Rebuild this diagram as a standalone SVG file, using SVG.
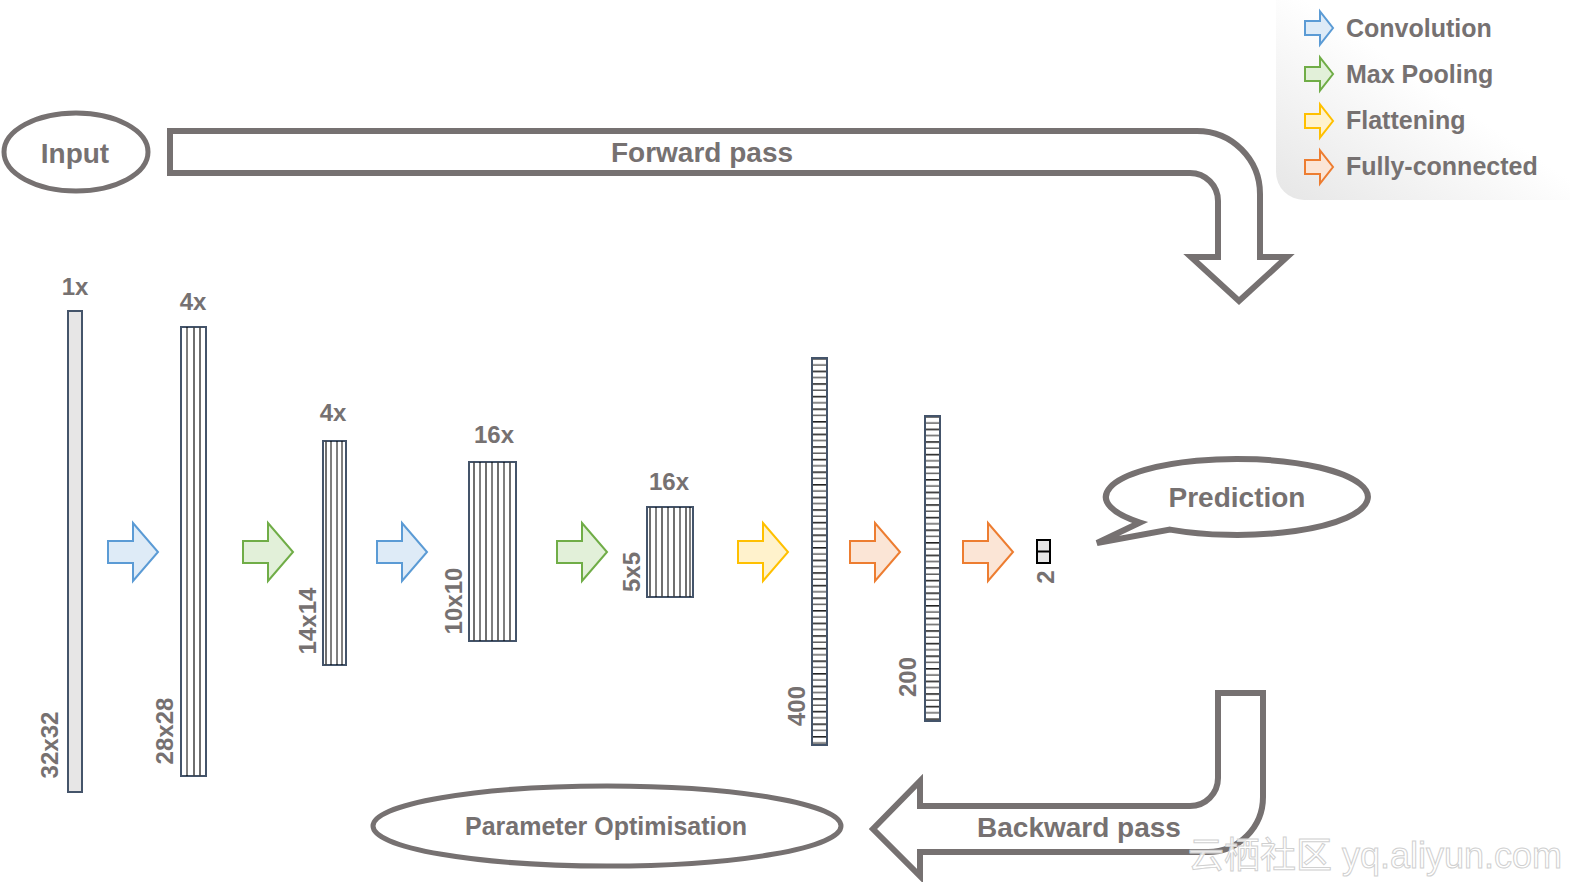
<svg xmlns="http://www.w3.org/2000/svg" width="1570" height="882" viewBox="0 0 1570 882">
<style>
.t{font-family:"Liberation Sans",Arial,sans-serif;font-weight:bold;fill:#767171}
.big{font-size:28px}
.lg{font-size:25px}
.sm{font-size:24px}
.gray{fill:none;stroke:#767171;stroke-width:6;stroke-linejoin:miter}
.ell{fill:#fff;stroke:#767171;stroke-width:5}
.layer{stroke:#44546a;stroke-width:2}
.vl{stroke:#404040;stroke-width:1.5}
.vt{stroke:#000;stroke-width:1}
.blue{fill:#deebf7;stroke:#5b9bd5;stroke-width:2}
.green{fill:#e2f0d9;stroke:#70ad47;stroke-width:2}
.yellow{fill:#fff2cc;stroke:#ffc000;stroke-width:2}
.orange{fill:#fbe5d6;stroke:#ed7d31;stroke-width:2}
</style>
<defs>
<path id="arr" d="M0,-11 H25 V-29 L50,0 L25,29 V11 H0 Z"/>
<path id="larr" d="M0,-7 H15 V-16.5 L28,0 L15,16.5 V7 H0 Z"/>
<linearGradient id="lgbg" x1="0" y1="1" x2="1" y2="0">
<stop offset="0" stop-color="#e6e6e6"/>
<stop offset="0.55" stop-color="#ffffff"/>
</linearGradient>
<pattern id="hl" patternUnits="userSpaceOnUse" x="0" y="358" width="20" height="12.6">
<rect width="20" height="12.6" fill="#fff"/>
<rect y="0" width="20" height="1.6" fill="#222"/>
<rect y="6.3" width="20" height="1.4" fill="#555"/>
</pattern>
<pattern id="hl2" patternUnits="userSpaceOnUse" x="0" y="416" width="20" height="12.6">
<rect width="20" height="12.6" fill="#fff"/>
<rect y="0" width="20" height="1.6" fill="#222"/>
<rect y="6.3" width="20" height="1.4" fill="#555"/>
</pattern>
</defs>
<rect width="1570" height="882" fill="#fff"/>

<g id="legend">
<path d="M1276,0 H1570 V200 H1304 A28,28 0 0 1 1276,172 Z" fill="url(#lgbg)"/>
<use href="#larr" x="1305" y="28" class="blue"/>
<use href="#larr" x="1305" y="74" class="green"/>
<use href="#larr" x="1305" y="121" class="yellow"/>
<use href="#larr" x="1305" y="167" class="orange"/>
<text class="t lg" x="1346" y="37">Convolution</text>
<text class="t lg" x="1346" y="83">Max Pooling</text>
<text class="t lg" x="1346" y="129">Flattening</text>
<text class="t lg" x="1346" y="175">Fully-connected</text>
</g>

<g id="input">
<ellipse cx="76" cy="152" rx="72" ry="39" class="ell"/>
<text class="t big" x="75" y="163" text-anchor="middle">Input</text>
</g>

<g id="forward-pass">
<path class="gray" d="M170,131 H1197 A63,63 0 0 1 1260,194 V257 H1287 L1239,301 L1191,257 H1218 V201 A28,28 0 0 0 1190,173 H170 Z"/>
<text class="t big" x="702" y="162" text-anchor="middle">Forward pass</text>
</g>

<g id="layer1">
<rect x="68" y="311" width="14" height="481" fill="#e7e6e6" class="layer"/>
<text class="t sm" x="75" y="295" text-anchor="middle">1x</text>
<text class="t sm" transform="translate(49,745) rotate(-90)" text-anchor="middle" dy="9">32x32</text>
</g>

<g id="layer2">
<rect x="181" y="327" width="25" height="449" fill="#fff" class="layer"/>
<path class="vt" d="M187,327 V776"/>
<path class="vl" d="M194,327 V776 M200,327 V776"/>
<text class="t sm" x="193" y="310" text-anchor="middle">4x</text>
<text class="t sm" transform="translate(164,731) rotate(-90)" text-anchor="middle" dy="9">28x28</text>
</g>

<g id="layer3">
<rect x="323" y="441" width="23" height="224" fill="#fff" class="layer"/>
<path class="vl" d="M326,441 V665"/>
<path class="vt" d="M331,441 V665 M337,441 V665 M342,441 V665"/>
<text class="t sm" x="333" y="421" text-anchor="middle">4x</text>
<text class="t sm" transform="translate(307,621) rotate(-90)" text-anchor="middle" dy="9">14x14</text>
</g>

<g id="layer4">
<rect x="469" y="462" width="47" height="179" fill="#fff" class="layer"/>
<path class="vl" d="M474,462 V641 M486,462 V641 M498,462 V641 M510,462 V641"/>
<path class="vt" d="M480,462 V641 M492,462 V641 M504,462 V641"/>
<text class="t sm" x="494" y="443" text-anchor="middle">16x</text>
<text class="t sm" transform="translate(453,601) rotate(-90)" text-anchor="middle" dy="9">10x10</text>
</g>

<g id="layer5">
<rect x="647" y="507" width="46" height="90" fill="#fff" class="layer"/>
<path class="vl" d="M650,507 V597 M662,507 V597 M674,507 V597 M686,507 V597"/>
<path class="vt" d="M656,507 V597 M668,507 V597 M680,507 V597 M690,507 V597"/>
<text class="t sm" x="669" y="490" text-anchor="middle">16x</text>
<text class="t sm" transform="translate(631,572) rotate(-90)" text-anchor="middle" dy="9">5x5</text>
</g>

<g id="layer6">
<rect x="812" y="358" width="15" height="387" fill="url(#hl)" class="layer"/>
<text class="t sm" transform="translate(796,706) rotate(-90)" text-anchor="middle" dy="9">400</text>
</g>

<g id="layer7">
<rect x="925" y="416" width="15" height="305" fill="url(#hl2)" class="layer"/>
<text class="t sm" transform="translate(907,677) rotate(-90)" text-anchor="middle" dy="9">200</text>
</g>

<g id="output">
<rect x="1037" y="540" width="13" height="23" fill="#e7e6e6" stroke="#000" stroke-width="2"/>
<path d="M1037,551.5 H1050" stroke="#000" stroke-width="2"/>
<text class="t sm" transform="translate(1045,577) rotate(-90)" text-anchor="middle" dy="9">2</text>
</g>

<g id="connectors">
<use href="#arr" x="108" y="552" class="blue"/>
<use href="#arr" x="243" y="552" class="green"/>
<use href="#arr" x="377" y="552" class="blue"/>
<use href="#arr" x="557" y="552" class="green"/>
<use href="#arr" x="738" y="552" class="yellow"/>
<use href="#arr" x="850" y="552" class="orange"/>
<use href="#arr" x="963" y="552" class="orange"/>
</g>

<g id="prediction">
<path d="M1170,529.6 A131,38 0 1 0 1140,522.5 L1097,543 Z" fill="#fff" stroke="#767171" stroke-width="6" stroke-linejoin="miter"/>
<text class="t big" x="1237" y="507" text-anchor="middle">Prediction</text>
</g>

<g id="backward-pass">
<path class="gray" d="M1218,693 H1263 V797 A55,55 0 0 1 1208,852 H920 V876 L873,829 L920,781 V806 H1190 A28,28 0 0 0 1218,778 Z"/>
<text class="t big" x="1079" y="837" text-anchor="middle">Backward pass</text>
</g>

<g id="parameter-optimisation">
<ellipse cx="607" cy="826" rx="234" ry="40" class="ell"/>
<text class="t lg" x="606" y="835" text-anchor="middle">Parameter Optimisation</text>
</g>

<text x="1188" y="868" font-family="'Liberation Sans','Noto Sans CJK SC',sans-serif" font-size="36" fill="#ffffff" fill-opacity="0.85" stroke="#d0d0d0" stroke-width="1">云栖社区 yq.aliyun.com</text>
</svg>
